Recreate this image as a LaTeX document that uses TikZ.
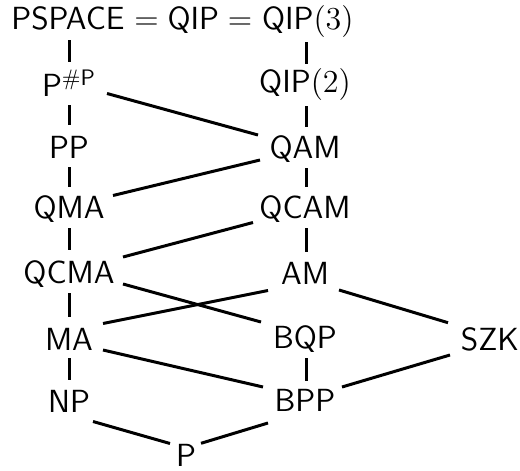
\RequirePackage{fix-cm}
\documentclass[tikz,border=0pt]{standalone}
\begin{document}
\fontsize{16}{19}\selectfont
\begin{tikzpicture}[x=0.5pt,y=-0.5pt,
  cls/.style={anchor=base, inner sep=0pt, font=\fontsize{16}{19}\selectfont},
  top/.style={cls, anchor=base west},
  edge/.style={line width=1.5pt}]
\useasboundingbox (0,0) rectangle (520,471);
% top line
\node[top] (pspace) at (11,29) {$\mathsf{PSPACE}$};
\node[top] (mid) at (pspace.base east) {${}=\mathsf{QIP}={}$};
\node[top] (qip3) at (mid.base east) {$\mathsf{QIP}(3)$};
% left column
\node[cls] (psharp) at (69,97) {$\mathsf{P}^{\#\mathsf{P}}$};
\node[cls] (pp) at (69,158.5) {$\mathsf{PP}$};
\node[cls] (qma) at (69,218) {$\mathsf{QMA}$};
\node[cls] (qcma) at (69,283) {$\mathsf{QCMA}$};
\node[cls] (ma) at (69,350) {$\mathsf{MA}$};
\node[cls] (np) at (69,412) {$\mathsf{NP}$};
\node[cls] (p) at (186,466) {$\mathsf{P}$};
% right column
\node[cls] (qip2) at (305,92) {$\mathsf{QIP}(2)$};
\node[cls] (qam) at (305,158.5) {$\mathsf{QAM}$};
\node[cls] (qcam) at (305,218) {$\mathsf{QCAM}$};
\node[cls] (am) at (305,284.5) {$\mathsf{AM}$};
\node[cls] (bqp) at (305,348.5) {$\mathsf{BQP}$};
\node[cls] (bpp) at (305,411) {$\mathsf{BPP}$};
\node[cls] (szk) at (490,350) {$\mathsf{SZK}$};
\coordinate (pspaceL) at (psharp |- pspace.base);
\coordinate (qipR) at (qip2 |- qip3.base);
% vertical edges
\draw[edge] ([shift={(0,11)}]pspaceL) -- ([shift={(0,-35)}]psharp.base);
\draw[edge] ([shift={(1,13)}]qipR) -- ([shift={(1,-28)}]qip2.base);
\draw[edge] ([shift={(0,8)}]psharp.base) -- ([shift={(0,-33.5)}]pp.base);
\draw[edge] ([shift={(1,14)}]qip2.base) -- ([shift={(1,-31.5)}]qam.base);
\draw[edge] ([shift={(0,8.5)}]pp.base) -- ([shift={(0,-31)}]qma.base);
\draw[edge] ([shift={(1,9.5)}]qam.base) -- ([shift={(1,-31)}]qcam.base);
\draw[edge] ([shift={(0,10)}]qma.base) -- ([shift={(0,-33)}]qcma.base);
\draw[edge] ([shift={(1,10)}]qcam.base) -- ([shift={(1,-32.5)}]am.base);
\draw[edge] ([shift={(0,10)}]qcma.base) -- ([shift={(0,-33)}]ma.base);
\draw[edge] ([shift={(0,8)}]ma.base) -- ([shift={(0,-32)}]np.base);
\draw[edge] ([shift={(1,9.5)}]bqp.base) -- ([shift={(1,-30)}]bpp.base);
% diagonal edges
\draw[edge] ([shift={(38,-3.5)}]psharp.base) -- ([shift={(-47,-23.5)}]qam.base);
\draw[edge] ([shift={(-45,1.5)}]qam.base) -- ([shift={(44,-22.5)}]qma.base);
\draw[edge] ([shift={(-52,4.5)}]qcam.base) -- ([shift={(54,-26)}]qcma.base);
\draw[edge] ([shift={(54,1)}]qcma.base) -- ([shift={(-44,-26.5)}]bqp.base);
\draw[edge] ([shift={(-37,6)}]am.base) -- ([shift={(34,-26.5)}]ma.base);
\draw[edge] ([shift={(34,5.5)}]am.base) -- ([shift={(-42,-27.3)}]szk.base);
\draw[edge] ([shift={(34,0)}]ma.base) -- ([shift={(-42,-24)}]bpp.base);
\draw[edge] ([shift={(-40,5)}]szk.base) -- ([shift={(37,-24)}]bpp.base);
\draw[edge] ([shift={(24,9.5)}]np.base) -- ([shift={(-16,-22.5)}]p.base);
\draw[edge] ([shift={(-37,12)}]bpp.base) -- ([shift={(15,-22.7)}]p.base);
\end{tikzpicture}
\end{document}
